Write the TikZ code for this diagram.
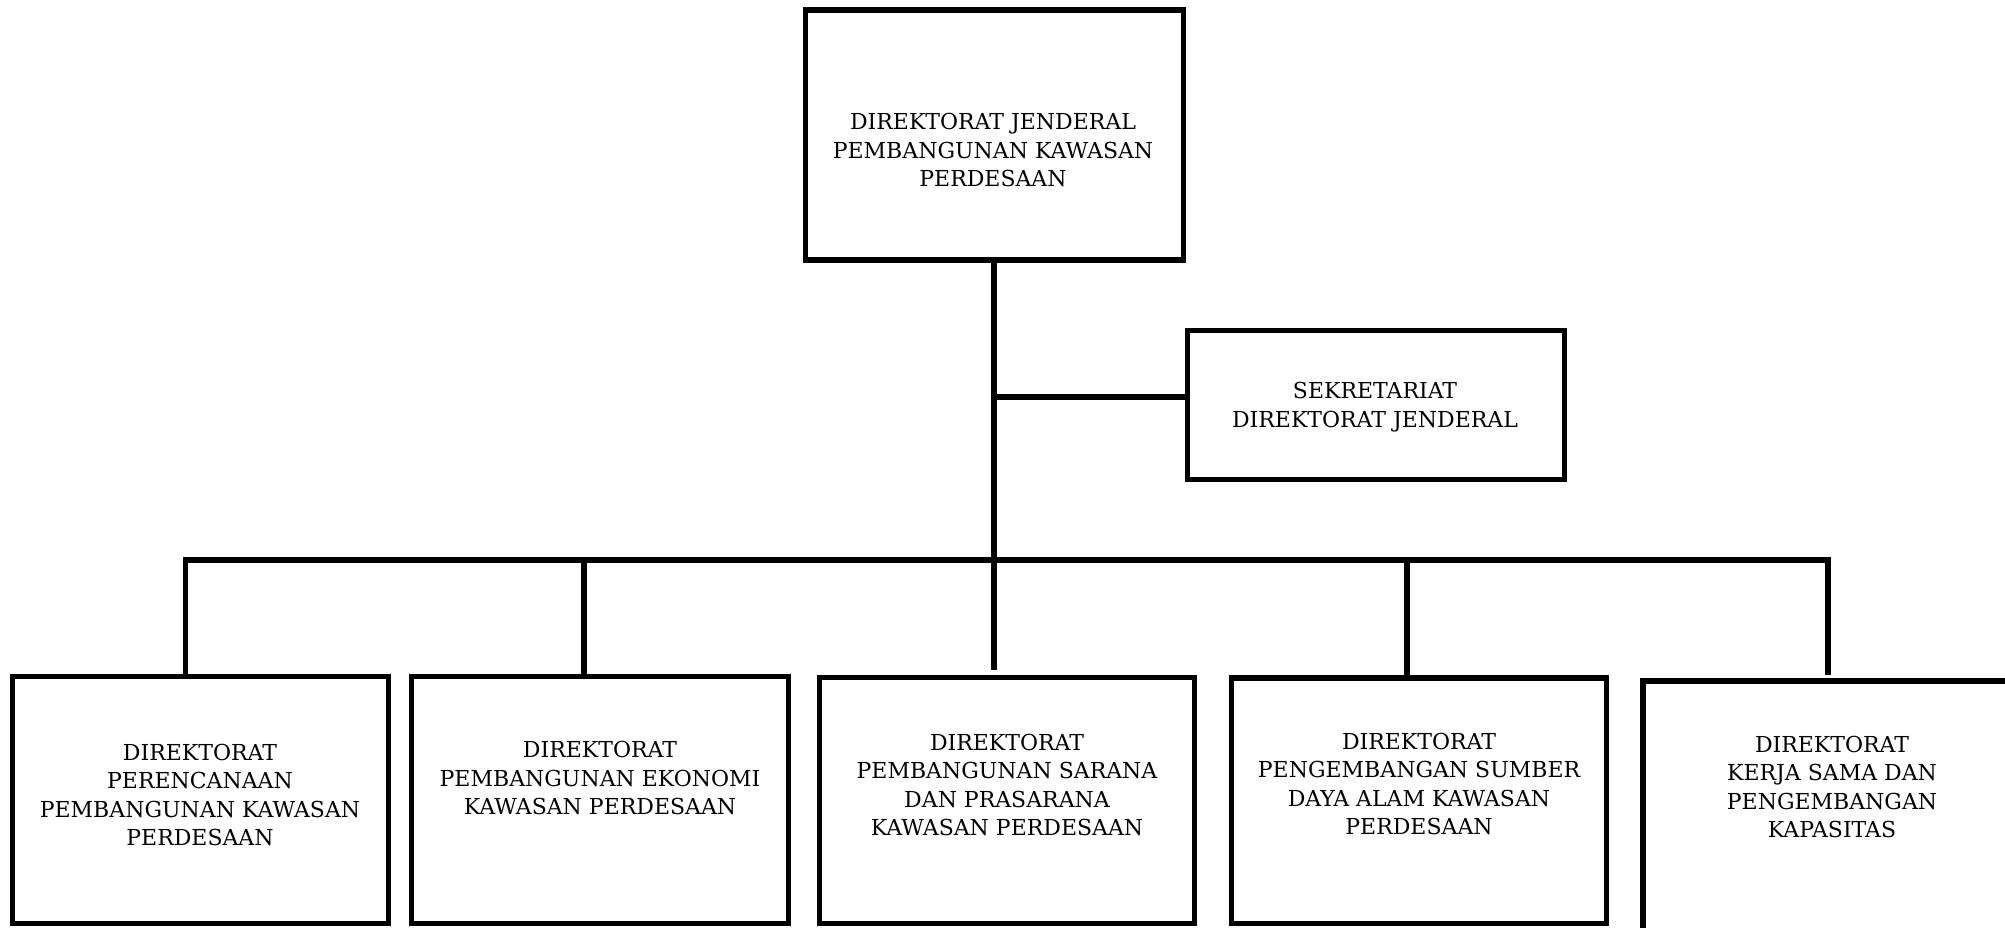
\documentclass[tikz,border=0pt]{standalone}
\usepackage{fontspec}
\setmainfont{DejaVu Serif}
\begin{document}
\begin{tikzpicture}[x=0.5pt,y=-0.5pt,
  orgbox/.style={draw=black,line width=2.65pt,inner sep=0pt,outer sep=0pt,minimum width=#1},
  lbl/.style={align=center,inner sep=0pt,font=\fontsize{11}{14.15}\selectfont},
  link/.style={draw=black,line width=2.65pt,line join=miter,line cap=rect}]
\useasboundingbox (0,0) rectangle (2005,927);
% boxes
\node[orgbox=189pt,minimum height=125pt] (top) at (994.5,135) {};
\node[orgbox=188.3pt,minimum height=74.3pt] (sekr) at (1376,405) {};
\node[orgbox=188pt,minimum height=123.5pt] (b1) at (200.25,800) {};
\node[orgbox=188.5pt,minimum height=123.5pt] (b2) at (600,800) {};
\node[orgbox=187.5pt,minimum height=123pt] (b3) at (1007,800.5) {};
\node[orgbox=187.5pt,minimum height=122.75pt] (b4) at (1419,800.75) {};
\node[orgbox=189pt,minimum height=160pt] (b5) at (1832,841) {};
% texts
\node[lbl] (ttop) at (993,150) {DIREKTORAT JENDERAL\\PEMBANGUNAN KAWASAN\\PERDESAAN};
\node[lbl] (tsekr) at (1375,407) {SEKRETARIAT\\DIREKTORAT JENDERAL};
\node[lbl] (t1) at (200,795) {DIREKTORAT\\PERENCANAAN\\PEMBANGUNAN KAWASAN\\PERDESAAN};
\node[lbl] (t2) at (600,778) {DIREKTORAT\\PEMBANGUNAN EKONOMI\\KAWASAN PERDESAAN};
\node[lbl] (t3) at (1007,785) {DIREKTORAT\\PEMBANGUNAN SARANA\\DAN PRASARANA\\KAWASAN PERDESAAN};
\node[lbl] (t4) at (1419,784) {DIREKTORAT\\PENGEMBANGAN SUMBER\\DAYA ALAM KAWASAN\\PERDESAAN};
\node[lbl] (t5) at (1832,787) {DIREKTORAT\\KERJA SAMA DAN\\PENGEMBANGAN\\KAPASITAS};
% junction coordinates
\coordinate (j) at (994,397);
\coordinate (bL) at (185.5,560);
\coordinate (bM) at (994,560);
\coordinate (bR) at (1828,560);
\coordinate (e3) at (994,670);
\coordinate (e5) at (1828,675);
% connectors
\draw[link,line cap=butt] (top.south -| j) -- (e3);
\draw[link,line cap=butt] (j) -- (j -| sekr.west);
\draw[link,line cap=butt] (bL |- b1.north) -- (bL) -- (bR) -- (e5);
\draw[link,line cap=butt] (584,560) -- (584,0 |- b2.north);
\draw[link,line cap=butt] (1407,560) -- (1407,0 |- b4.north);
\end{tikzpicture}
\end{document}
